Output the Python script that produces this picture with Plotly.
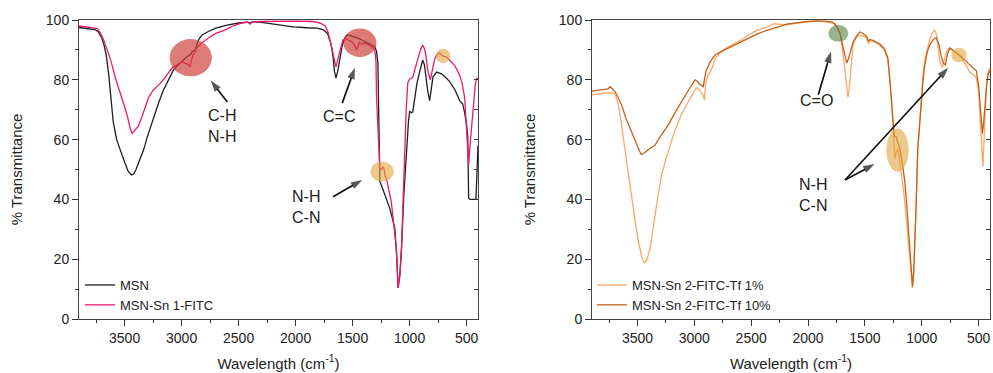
import plotly.graph_objects as go

# ---------------- data (wavenumber cm-1, % transmittance) ----------------
msn_wn = [3900, 3850, 3800, 3760, 3730, 3700, 3680, 3660, 3640, 3620, 3600, 3570, 3535, 3500, 3470, 3440, 3420,
          3400, 3370, 3334, 3300, 3246, 3200, 3159, 3110, 3071, 3030, 2984, 2950, 2920, 2905, 2880, 2870, 2853,
          2820, 2774, 2700, 2600, 2500, 2420, 2400, 2380, 2300, 2200, 2100, 2022, 1900, 1812, 1760, 1720, 1690,
          1672, 1660, 1646, 1630, 1610, 1593, 1570, 1550, 1520, 1490, 1461, 1420, 1375, 1340, 1305, 1290, 1278,
          1272, 1266, 1261, 1240, 1200, 1174, 1150, 1130, 1115, 1101, 1085, 1071, 1050, 1027, 1010, 999, 985,
          972, 955, 935, 910, 885, 870, 855, 840, 824, 810, 795, 763, 720, 690, 650, 600, 561, 535, 517, 500,
          490, 482, 470, 460, 430, 418, 410, 400]
msn_t = [97.5, 97.3, 97.2, 96.8, 96.0, 94.0, 91.5, 88.0, 82.0, 73.0, 66.0, 60.0, 56.0, 52.5, 49.5, 48.2, 48.5,
         50.0, 53.0, 56.5, 61.0, 67.6, 72.5, 76.6, 80.5, 83.3, 85.0, 86.6, 87.8, 88.5, 89.5, 90.0, 91.5, 93.3,
         95.0, 96.0, 97.3, 98.3, 99.0, 99.3, 99.0, 99.4, 99.2, 98.6, 98.0, 97.7, 97.4, 97.3, 96.8, 95.5, 92.0,
         88.0, 83.0, 80.6, 83.0, 87.0, 91.0, 94.0, 95.0, 94.8, 94.5, 94.0, 93.3, 92.6, 91.8, 91.0, 89.5, 85.5,
         75.0, 57.0, 46.0, 44.0, 40.0, 37.0, 33.5, 30.4, 22.0, 10.4, 15.0, 23.7, 42.0, 57.0, 66.0, 69.5, 69.0,
         69.3, 74.0, 79.0, 83.0, 86.6, 85.0, 80.0, 76.0, 73.0, 77.0, 81.0, 82.6, 82.0, 81.0, 79.5, 76.5, 73.0,
         72.0, 69.0, 65.0, 61.0, 40.4, 40.0, 40.0, 40.0, 40.0, 48.0, 58.0]

fitc_wn = [3900, 3850, 3800, 3760, 3736, 3710, 3680, 3650, 3622, 3580, 3535, 3500, 3474, 3450, 3433, 3410, 3380,
           3345, 3320, 3290, 3250, 3200, 3150, 3083, 3040, 2995, 2970, 2950, 2935, 2923, 2915, 2905, 2896, 2885,
           2870, 2853, 2820, 2765, 2700, 2617, 2550, 2471, 2420, 2400, 2380, 2300, 2200, 2000, 1850, 1786, 1740,
           1716, 1690, 1672, 1646, 1625, 1600, 1585, 1560, 1530, 1500, 1475, 1462, 1450, 1440, 1420, 1400, 1375,
           1340, 1305, 1295, 1290, 1275, 1261, 1245, 1235, 1226, 1215, 1203, 1180, 1160, 1140, 1116, 1101, 1085,
           1071, 1055, 1042, 1030, 1016, 999, 985, 972, 950, 929, 905, 885, 870, 857, 840, 818, 800, 780, 760,
           736, 710, 680, 649, 600, 561, 540, 517, 500, 482, 470, 447, 425, 412, 400]
fitc_t = [98.0, 97.8, 97.6, 97.3, 97.0, 95.5, 93.0, 90.0, 86.6, 80.5, 75.5, 71.0, 67.6, 63.5, 62.1, 63.0, 64.5,
          68.0, 70.5, 74.0, 76.5, 78.3, 80.5, 84.0, 85.0, 86.0, 85.5, 85.3, 84.8, 84.4, 86.5, 88.0, 88.5, 89.0,
          90.5, 91.2, 92.5, 94.0, 95.5, 96.7, 98.0, 99.0, 99.3, 98.6, 99.3, 99.5, 99.6, 99.6, 99.5, 99.0, 98.0,
          96.0, 92.0, 88.4, 84.3, 87.5, 91.5, 93.3, 93.8, 93.2, 92.6, 91.0, 90.0, 91.5, 92.5, 91.8, 92.3, 92.0,
          91.3, 90.0, 86.0, 74.0, 60.0, 50.5, 50.0, 50.8, 50.5, 48.0, 47.0, 43.0, 39.0, 32.0, 23.7, 10.4, 14.5,
          23.7, 42.0, 57.0, 70.0, 79.0, 80.3, 80.5, 81.0, 84.0, 87.0, 90.0, 91.6, 90.5, 88.0, 83.0, 80.0, 84.0,
          87.0, 88.5, 89.0, 88.0, 87.7, 86.6, 84.5, 81.6, 79.0, 74.0, 64.0, 51.5, 58.0, 68.0, 78.0, 80.6, 80.0]

tf1_wn = [3900, 3850, 3800, 3750, 3700, 3670, 3652, 3630, 3608, 3580, 3552, 3520, 3491, 3460, 3439, 3415, 3389,
          3365, 3345, 3320, 3289, 3250, 3213, 3180, 3140, 3100, 3053, 3010, 2982, 2960, 2935, 2920, 2912, 2900,
          2880, 2851, 2830, 2818, 2770, 2702, 2600, 2526, 2450, 2351, 2300, 2250, 2175, 2100, 2000, 1924, 1850,
          1800, 1781, 1750, 1719, 1700, 1680, 1660, 1649, 1635, 1620, 1605, 1580, 1544, 1510, 1485, 1470, 1455,
          1430, 1400, 1369, 1330, 1298, 1280, 1266, 1254, 1245, 1237, 1225, 1210, 1195, 1178, 1160, 1140, 1120,
          1105, 1082, 1070, 1061, 1048, 1035, 1020, 1003, 990, 974, 950, 930, 910, 886, 870, 855, 840, 825, 816,
          800, 775, 754, 720, 690, 667, 620, 579, 540, 520, 500, 480, 470, 462, 450, 430, 415, 400]
tf1_t = [75.0, 75.3, 75.5, 75.7, 75.5, 72.0, 68.0, 62.0, 55.0, 47.5, 40.4, 32.5, 25.7, 20.5, 18.7, 20.0, 23.7,
         29.0, 34.8, 41.0, 48.0, 53.5, 58.0, 62.0, 66.0, 69.5, 72.7, 75.5, 77.3, 76.8, 75.5, 74.5, 73.2, 79.0,
         81.5, 83.3, 85.5, 87.0, 89.3, 91.0, 93.0, 95.0, 96.5, 97.8, 98.8, 98.5, 98.5, 99.0, 99.5, 99.8, 99.5,
         99.3, 99.0, 97.5, 95.5, 91.0, 84.0, 77.0, 74.3, 78.0, 86.0, 91.5, 94.0, 95.0, 94.5, 94.0, 92.0, 93.3,
         92.8, 92.4, 91.5, 90.0, 86.5, 80.0, 74.0, 65.0, 58.0, 53.5, 56.0, 57.0, 53.0, 48.0, 43.0, 35.0, 27.0,
         20.0, 10.4, 16.0, 23.7, 40.0, 57.0, 66.0, 74.0, 81.0, 86.5, 91.0, 93.5, 95.5, 96.7, 95.0, 91.0, 86.0,
         84.5, 84.3, 87.0, 90.0, 90.6, 89.5, 88.5, 88.0, 85.5, 82.6, 81.5, 80.6, 76.0, 62.0, 54.0, 51.0, 62.0,
         79.0, 83.0, 84.0]

tf10_wn = [3900, 3850, 3800, 3760, 3740, 3720, 3696, 3670, 3640, 3600, 3552, 3510, 3480, 3465, 3440, 3400, 3345,
           3300, 3228, 3170, 3114, 3060, 3020, 2994, 2975, 2958, 2935, 2921, 2910, 2895, 2860, 2818, 2760, 2702,
           2600, 2526, 2450, 2351, 2250, 2175, 2050, 1950, 1850, 1790, 1760, 1734, 1719, 1700, 1680, 1660, 1645,
           1625, 1605, 1575, 1544, 1515, 1485, 1470, 1455, 1430, 1400, 1369, 1330, 1298, 1281, 1266, 1254, 1244,
           1237, 1225, 1210, 1193, 1170, 1149, 1128, 1105, 1082, 1070, 1061, 1048, 1035, 1020, 1003, 990, 974,
           950, 930, 900, 871, 850, 830, 810, 792, 775, 754, 720, 667, 620, 579, 540, 520, 500, 480, 467, 455,
           430, 415, 400]
tf10_t = [76.2, 76.5, 76.7, 77.0, 77.7, 77.0, 76.0, 74.0, 71.6, 67.0, 62.5, 58.5, 56.0, 55.0, 55.5, 56.8, 58.2,
          61.0, 65.0, 69.0, 72.7, 76.2, 78.5, 80.0, 79.5, 78.7, 78.0, 77.7, 80.5, 83.3, 86.0, 88.3, 89.5, 90.6,
          92.5, 94.0, 95.3, 96.7, 97.8, 98.7, 99.3, 99.6, 99.6, 99.4, 98.5, 97.0, 95.5, 92.5, 88.5, 85.6, 87.0,
          90.0, 92.5, 94.5, 96.0, 95.5, 94.5, 93.0, 93.5, 93.2, 92.5, 92.0, 90.5, 87.3, 80.0, 72.0, 66.0, 62.0,
          61.0, 61.0, 59.0, 57.0, 52.0, 45.8, 36.0, 23.7, 11.0, 16.0, 23.7, 40.0, 57.0, 65.0, 72.6, 79.0, 85.0,
          89.5, 91.6, 93.5, 94.0, 92.0, 88.0, 85.5, 85.0, 88.5, 90.6, 89.8, 88.3, 86.5, 85.0, 83.5, 83.0, 78.0,
          68.0, 62.0, 66.0, 78.0, 82.0, 83.0]

series_names = ["MSN", "MSN-Sn 1-FITC", "MSN-Sn 2-FITC-Tf 1%", "MSN-Sn 2-FITC-Tf 10%"]

# highlighted band regions: (center wn, center T, width wn, height T, colour)
hl_left = [(2920, 87.4, 370, 12.5, "rgba(205,60,55,0.68)"),
           (1436, 92.4, 290, 9.5, "rgba(205,60,55,0.68)"),
           (1241, 49.3, 204, 6.8, "rgba(222,165,60,0.6)"),
           (707, 88.0, 128, 4.8, "rgba(222,165,60,0.6)")]
hl_right = [(1734, 95.5, 175, 5.6, "rgba(90,130,75,0.62)"),
            (1213, 56.5, 196, 14.5, "rgba(222,165,60,0.6)"),
            (673, 88.3, 137, 4.9, "rgba(222,165,60,0.6)")]

# labels: (text, wn, T)
labels_left = [("C-H<br>N-H", 2643, 64.6), ("C=C", 1617, 67.6), ("N-H<br>C-N", 1908, 37.4)]
labels_right = [("C=O", 1924, 73.2), ("N-H<br>C-N", 1956, 41.5)]
# arrows: (tail wn, tail T, head wn, head T)
arrows_left = [(2599, 72.6, 2745, 79.8), (1591, 72.2, 1480, 84.0), (1672, 40.9, 1415, 46.5)]
arrows_right = [(1910, 75.0, 1798, 89.5), (1675, 46.5, 1415, 51.8), (1675, 46.5, 768, 84.0)]

W, H = 993, 373
FONT = "Liberation Sans, Arial, sans-serif"
TXT = "#222222"

fig = go.Figure()
fig.add_trace(go.Scatter(x=msn_wn, y=msn_t, name=series_names[0], mode="lines",
                         line=dict(color="#1e1e1e", width=1.3), xaxis="x", yaxis="y", legend="legend"))
fig.add_trace(go.Scatter(x=fitc_wn, y=fitc_t, name=series_names[1], mode="lines",
                         line=dict(color="#ea1a6e", width=1.3), xaxis="x", yaxis="y", legend="legend"))
fig.add_trace(go.Scatter(x=tf1_wn, y=tf1_t, name=series_names[2], mode="lines",
                         line=dict(color="#ffa764", width=1.3), xaxis="x2", yaxis="y2", legend="legend2"))
fig.add_trace(go.Scatter(x=tf10_wn, y=tf10_t, name=series_names[3], mode="lines",
                         line=dict(color="#c2601c", width=1.3), xaxis="x2", yaxis="y2", legend="legend2"))
# helper empty traces so the mirrored inner-tick axes render
fig.add_trace(go.Scatter(x=[], y=[], xaxis="x", yaxis="y3", showlegend=False, hoverinfo="skip"))
fig.add_trace(go.Scatter(x=[], y=[], xaxis="x2", yaxis="y4", showlegend=False, hoverinfo="skip"))

# arrows as line + oriented arrow-head marker
for ar, xa, ya in [(a, "x", "y") for a in arrows_left] + [(a, "x2", "y2") for a in arrows_right]:
    fig.add_trace(go.Scatter(x=[ar[0], ar[2]], y=[ar[1], ar[3]], mode="lines+markers", xaxis=xa, yaxis=ya,
                             line=dict(color="#111111", width=1.7),
                             marker=dict(symbol="arrow", size=[0, 12], angleref="previous", color="#111111",
                                         line=dict(width=0)),
                             showlegend=False, hoverinfo="skip"))

shapes = []
for (cx, cy, w, h, col), xr, yr in [(s, "x", "y") for s in hl_left] + [(s, "x2", "y2") for s in hl_right]:
    shapes.append(dict(type="circle", xref=xr, yref=yr, x0=cx - w / 2, x1=cx + w / 2,
                       y0=cy - h / 2, y1=cy + h / 2, fillcolor=col, line=dict(width=0), layer="above"))

annotations = []
for lab, xr, yr in [(l, "x", "y") for l in labels_left] + [(l, "x2", "y2") for l in labels_right]:
    annotations.append(dict(text=lab[0], x=lab[1], y=lab[2], xref=xr, yref=yr, showarrow=False,
                            font=dict(family=FONT, size=16, color=TXT), align="center"))

x_dom_l = [79 / W, 478 / W]
x_dom_r = [592 / W, 990 / W]
y_dom = [(H - 319) / H, (H - 20) / H]

def xaxis(domain, anchor):
    return dict(domain=domain, anchor=anchor, range=[3900, 400], tick0=0, dtick=500, automargin=False,
                ticks="outside", ticklen=6, tickwidth=1, tickcolor="#333",
                minor=dict(dtick=250, tick0=0, ticks="outside", ticklen=3, tickcolor="#333"),
                showline=True, linecolor="#444", linewidth=1, mirror=True, showgrid=False, zeroline=False,
                tickfont=dict(family=FONT, size=14, color=TXT),
                title=dict(text="Wavelength (cm<sup>-1</sup>)", font=dict(family=FONT, size=15, color=TXT),
                           standoff=13))

def yaxis(domain, anchor):
    return dict(domain=domain, anchor=anchor, range=[0, 100], tick0=0, dtick=20, automargin=False,
                ticks="outside", ticklen=6, tickwidth=1, tickcolor="#333",
                minor=dict(dtick=10, tick0=0, ticks="outside", ticklen=3, tickcolor="#333"),
                showline=True, linecolor="#444", linewidth=1, mirror=True, showgrid=False, zeroline=False,
                tickfont=dict(family=FONT, size=14, color=TXT),
                title=dict(text="% Transmittance", font=dict(family=FONT, size=15, color=TXT), standoff=19))

def inner_y(overlay, anchor):
    return dict(overlaying=overlay, anchor=anchor, side="right", range=[0, 100], tick0=0, dtick=10,
                ticks="inside", ticklen=4, tickcolor="#333", showticklabels=False, showline=False,
                showgrid=False, zeroline=False, automargin=False)

legend_common = dict(bgcolor="rgba(0,0,0,0)", borderwidth=0, font=dict(family=FONT, size=13, color=TXT),
                     xanchor="left", yanchor="bottom", tracegroupgap=0)

fig.update_layout(
    width=W, height=H, margin=dict(l=0, r=0, t=0, b=0),
    paper_bgcolor="white", plot_bgcolor="white",
    xaxis=xaxis(x_dom_l, "y"), yaxis=yaxis(y_dom, "x"),
    xaxis2=xaxis(x_dom_r, "y2"), yaxis2=yaxis(y_dom, "x2"),
    yaxis3=inner_y("y", "x"), yaxis4=inner_y("y2", "x2"),
    legend=dict(x=80 / W, y=(H - 320) / H, **legend_common),
    legend2=dict(x=592 / W, y=(H - 320) / H, **legend_common),
    shapes=shapes, annotations=annotations, showlegend=True,
)

fig.write_html("out.html")
